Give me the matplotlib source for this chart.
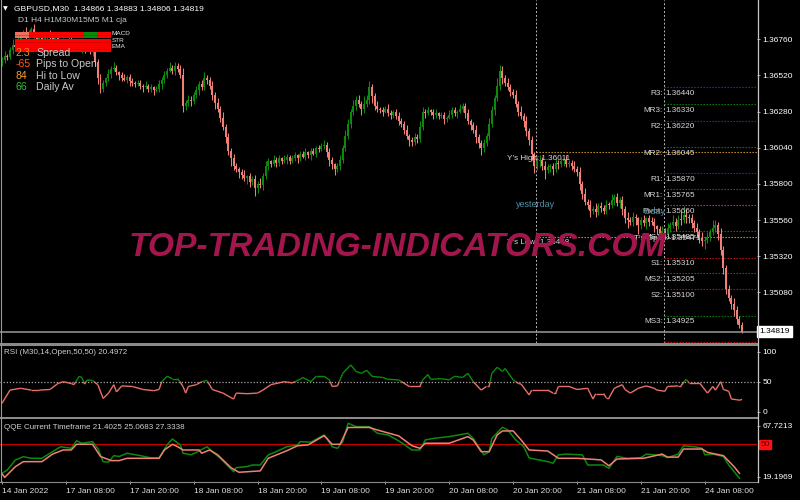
import numpy as np
import matplotlib
matplotlib.use("Agg")
import matplotlib.pyplot as plt
from matplotlib.collections import LineCollection
from matplotlib.patches import Rectangle
from matplotlib.lines import Line2D
import matplotlib.transforms as mtransforms

plt.rcParams['font.family'] = ['Liberation Sans', 'DejaVu Sans']

# ---------------- data ----------------
symbol = "GBPUSD,M30"
quote = [1.34866, 1.34883, 1.34806, 1.34819]

first_open = 1.3661
close = [
    1.3662, 1.3665, 1.3664, 1.3669, 1.3672, 1.3671, 1.3676, 1.3679, 1.3681, 1.3678,
    1.3680, 1.3683, 1.3679, 1.3676, 1.3678, 1.3674, 1.3677, 1.3680, 1.3678, 1.3675,
    1.3677, 1.3674, 1.3672, 1.3675, 1.3673, 1.3676, 1.3674, 1.3671, 1.3673, 1.3670,
    1.3672, 1.3669, 1.3671, 1.3668, 1.3670, 1.3661, 1.3650, 1.3643, 1.3647, 1.3650,
    1.3653, 1.3656, 1.3657, 1.3654, 1.3652, 1.3650, 1.3649, 1.3651, 1.3648, 1.3647,
    1.3646, 1.3647, 1.3645, 1.3644, 1.3645, 1.3643, 1.3644, 1.3642, 1.3643, 1.3646,
    1.3649, 1.3652, 1.3655, 1.3657, 1.3655, 1.3658, 1.3656, 1.3652, 1.3632, 1.3634,
    1.3636, 1.3635, 1.3639, 1.3642, 1.3646, 1.3644, 1.3650, 1.3649, 1.3645, 1.3639,
    1.3634, 1.3630, 1.3624, 1.3618, 1.3611, 1.3602, 1.3597, 1.3592, 1.3590, 1.3588,
    1.3586, 1.3584, 1.3585, 1.3581, 1.3583, 1.3577, 1.3580, 1.3579, 1.3585, 1.3592,
    1.3595, 1.3593, 1.3596, 1.3594, 1.3597, 1.3595, 1.3596, 1.3598, 1.3595, 1.3597,
    1.3599, 1.3597, 1.3600, 1.3598, 1.3601, 1.3599, 1.3602, 1.3600, 1.3604, 1.3603,
    1.3605, 1.3606, 1.3601, 1.3596, 1.3593, 1.3590, 1.3592, 1.3596, 1.3604, 1.3612,
    1.3620, 1.3628, 1.3632, 1.3636, 1.3633, 1.3630, 1.3633, 1.3636, 1.3644, 1.3638,
    1.3632, 1.3630, 1.3629, 1.3628, 1.3630, 1.3627, 1.3626, 1.3628, 1.3625, 1.3622,
    1.3620, 1.3616, 1.3612, 1.3609, 1.3608, 1.3611, 1.3610, 1.3618, 1.3628, 1.3627,
    1.3629, 1.3628, 1.3626, 1.3627, 1.3625, 1.3626, 1.3623, 1.3624, 1.3626, 1.3629,
    1.3627, 1.3628, 1.3630, 1.3632, 1.3627, 1.3622, 1.3619, 1.3616, 1.3611, 1.3607,
    1.3604, 1.3607, 1.3612, 1.3620, 1.3629, 1.3637, 1.3645, 1.3655, 1.3650, 1.3647,
    1.3644, 1.3641, 1.3639, 1.3633, 1.3628, 1.3625, 1.3622, 1.3615, 1.3609, 1.3600,
    1.3592, 1.3595, 1.3596, 1.3592, 1.3589, 1.3591, 1.3592, 1.3590, 1.3594, 1.3593,
    1.3595, 1.3596, 1.3593, 1.3594, 1.3592, 1.3590, 1.3588, 1.3580, 1.3573, 1.3568,
    1.3566, 1.3562, 1.3563, 1.3561, 1.3565, 1.3564, 1.3562, 1.3566, 1.3566, 1.3569,
    1.3571, 1.3567, 1.3569, 1.3563, 1.3557, 1.3556, 1.3555, 1.3558, 1.3557, 1.3553,
    1.3556, 1.3554, 1.3557, 1.3555, 1.3555, 1.3552, 1.3550, 1.3547, 1.3549, 1.3547,
    1.3551, 1.3553, 1.3555, 1.3552, 1.3556, 1.3556, 1.3559, 1.3558, 1.3557, 1.3554,
    1.3551, 1.3548, 1.3544, 1.3542, 1.3543, 1.3545, 1.3548, 1.3551, 1.3553, 1.3547,
    1.3536, 1.3524, 1.3510, 1.3504, 1.3500, 1.3496, 1.3490, 1.3486, 1.34819,
]
# upper / lower wick length in pips
wick_up = [
    2, 3, 1, 2, 4, 2, 3, 2, 1, 3,
    2, 1, 3, 2, 1, 2, 3, 1, 2, 2,
    1, 3, 2, 2, 1, 2, 3, 1, 2, 2,
    2, 1, 2, 3, 2, 4, 2, 3, 2, 1,
    3, 2, 4, 2, 1, 2, 3, 1, 2, 2,
    1, 2, 2, 1, 3, 1, 2, 1, 2, 3,
    2, 3, 2, 4, 2, 3, 2, 3, 5, 2,
    3, 2, 2, 3, 2, 3, 4, 2, 2, 3,
    2, 3, 2, 4, 2, 3, 2, 3, 2, 1,
    2, 3, 1, 2, 2, 3, 2, 4, 2, 3,
    2, 1, 3, 2, 2, 1, 3, 2, 1, 2,
    2, 1, 2, 2, 3, 1, 2, 2, 1, 2,
    2, 3, 2, 3, 2, 1, 2, 3, 2, 4,
    3, 2, 4, 2, 3, 2, 5, 3, 4, 2,
    2, 3, 1, 2, 2, 3, 2, 1, 2, 3,
    2, 2, 3, 1, 2, 3, 2, 4, 3, 2,
    2, 1, 2, 3, 1, 2, 2, 1, 3, 2,
    2, 1, 3, 2, 2, 3, 1, 2, 3, 2,
    2, 3, 2, 4, 3, 2, 5, 4, 3, 2,
    3, 2, 2, 3, 2, 4, 2, 3, 2, 3,
    1, 3, 3, 2, 3, 2, 1, 2, 3, 2,
    2, 1, 3, 2, 2, 3, 2, 3, 2, 4,
    2, 3, 2, 4, 2, 3, 2, 3, 2, 4,
    2, 3, 2, 3, 2, 4, 2, 3, 2, 1,
    2, 3, 1, 2, 3, 2, 1, 2, 3, 2,
    3, 2, 4, 2, 3, 6, 6, 4, 2, 3,
    2, 3, 2, 4, 2, 3, 2, 5, 3, 2,
    4, 3, 2, 3, 2, 4, 3, 2, 2,
]
wick_dn = [
    3, 2, 2, 1, 3, 2, 2, 3, 1, 2,
    1, 2, 2, 3, 1, 2, 1, 2, 2, 3,
    2, 1, 2, 1, 3, 2, 1, 2, 2, 1,
    3, 2, 1, 2, 3, 2, 4, 3, 2, 2,
    2, 3, 1, 2, 3, 2, 1, 2, 3, 2,
    2, 1, 2, 3, 1, 2, 2, 3, 1, 2,
    3, 2, 2, 1, 2, 3, 2, 2, 4, 3,
    2, 3, 2, 2, 3, 2, 2, 3, 2, 3,
    4, 2, 3, 2, 4, 3, 5, 3, 2, 4,
    3, 2, 4, 3, 2, 5, 3, 2, 3, 2,
    3, 2, 1, 3, 2, 2, 1, 3, 2, 1,
    2, 3, 2, 1, 2, 2, 3, 1, 2, 2,
    1, 2, 3, 4, 3, 4, 2, 3, 2, 2,
    2, 3, 2, 3, 2, 4, 3, 2, 3, 4,
    3, 2, 2, 3, 1, 2, 3, 2, 2, 3,
    2, 3, 2, 4, 3, 2, 3, 2, 2, 3,
    1, 2, 3, 2, 2, 1, 3, 2, 1, 2,
    2, 3, 1, 2, 3, 2, 3, 2, 4, 3,
    5, 3, 2, 3, 2, 3, 2, 3, 4, 2,
    2, 3, 2, 2, 3, 2, 4, 3, 3, 4,
    5, 3, 4, 3, 6, 2, 3, 4, 2, 3,
    2, 3, 2, 2, 3, 2, 3, 4, 3, 2,
    3, 4, 2, 3, 2, 3, 2, 2, 3, 2,
    3, 2, 3, 4, 3, 5, 2, 3, 4, 6,
    3, 2, 4, 3, 2, 4, 3, 2, 5, 3,
    2, 3, 2, 3, 2, 3, 2, 4, 3, 3,
    3, 4, 3, 3, 5, 2, 3, 2, 3, 4,
    3, 4, 3, 2, 3, 4, 3, 2, 1,
]

time_bars = [0, 24, 48, 72, 96, 120, 144, 168, 192, 216, 240, 264]
time_labels = ["14 Jan 2022", "17 Jan 08:00", "17 Jan 20:00", "18 Jan 08:00",
               "18 Jan 20:00", "19 Jan 08:00", "19 Jan 20:00", "20 Jan 08:00",
               "20 Jan 20:00", "21 Jan 08:00", "21 Jan 20:00", "24 Jan 08:00"]
price_ticks = [1.36760, 1.36520, 1.36280, 1.36040, 1.35800, 1.35560, 1.35320, 1.35080]
last_price = 1.34819

yday_start, today_start = 200, 248
yday_high, yday_low, today_open = 1.36011, 1.35448, 1.35471
pivot_names = ["R3", "MR3", "R2", "MR2", "R1", "MR1", "Pivot", "MS1", "S1", "MS2", "S2", "MS3", "S3"]
pivot_values = [1.36440, 1.36330, 1.36220, 1.36045, 1.35870, 1.35765, 1.35660,
                1.35485, 1.35310, 1.35205, 1.35100, 1.34925, 1.34750]
pivot_kinds = ["R", "M", "R", "M", "R", "M", "P", "M", "S", "M", "S", "M", "S"]

rsi_bars = [0, 3, 7, 11, 14, 18, 21, 23, 26, 27, 29, 30, 31, 32, 34, 36, 38, 40, 42, 43,
            45, 49, 53, 57, 59, 60, 62, 64, 66, 68, 69, 70, 73, 75, 77, 79, 83, 87, 88, 92,
            96, 98, 101, 106, 109, 112, 113, 116, 118, 121, 123, 124, 126, 128, 131, 133, 135, 137, 139, 143,
            145, 149, 153, 157, 158, 160, 161, 165, 168, 170, 173, 175, 177, 180, 182, 183, 184, 186, 188, 189,
            192, 194, 195, 198, 199, 205, 207, 208, 209, 213, 216, 220, 222, 223, 226, 227, 228, 230, 233, 234,
            236, 239, 242, 245, 246, 249, 250, 254, 255, 257, 258, 262, 265, 267, 268, 270, 271, 273, 274, 276,
            277, 278]
rsi_vals = [14, 36, 39, 36, 36, 37, 47, 50, 47, 45, 59, 57, 46, 53, 52, 45, 22, 31, 45, 33,
            43, 42, 37, 35, 37, 50, 59, 55, 55, 42, 31, 42, 45, 50, 52, 37, 31, 21, 31, 30,
            31, 36, 45, 50, 48, 54, 57, 50, 59, 59, 53, 42, 43, 64, 78, 67, 64, 69, 59, 57,
            54, 53, 42, 42, 53, 62, 54, 55, 53, 59, 57, 64, 50, 36, 42, 42, 64, 74, 67, 72,
            53, 47, 46, 28, 36, 36, 31, 31, 42, 42, 37, 39, 21, 30, 30, 23, 23, 39, 45, 37,
            31, 39, 43, 39, 36, 34, 42, 43, 43, 54, 48, 48, 31, 42, 36, 50, 37, 34, 21, 20,
            19, 20.4972]

qqe_fast_bars = [0, 2, 5, 8, 11, 15, 19, 22, 26, 28, 30, 34, 36, 38, 40, 42, 44, 47, 52, 56,
                 59, 62, 64, 67, 68, 71, 73, 77, 79, 82, 87, 88, 92, 94, 97, 100, 103, 107, 111, 112,
                 116, 121, 122, 124, 126, 128, 130, 133, 138, 141, 145, 149, 154, 157, 159, 162, 168, 175, 177, 181,
                 183, 184, 188, 190, 193, 196, 198, 205, 207, 209, 212, 218, 220, 226, 228, 231, 235, 240, 242, 248,
                 250, 254, 256, 260, 263, 264, 267, 271, 273, 275, 277]
qqe_fast = [22.4, 25.6, 35.0, 38.2, 36.7, 36.7, 43.0, 47.7, 46.2, 53.4, 51.0, 52.5, 46.0, 33.5, 33.0, 39.2, 38.4, 41.5, 39.2, 37.0,
            37.0, 49.4, 55.0, 49.4, 41.5, 40.0, 42.3, 47.7, 43.0, 36.7, 24.0, 27.8, 28.8, 30.3, 30.3, 39.8, 43.0, 47.7, 49.4, 52.5,
            52.0, 58.9, 55.6, 47.7, 46.2, 52.5, 70.0, 66.8, 66.8, 60.5, 58.9, 53.3, 44.6, 44.6, 54.1, 55.6, 57.3, 60.5, 55.6, 40.0,
            43.0, 55.6, 66.2, 63.6, 54.1, 47.7, 37.0, 33.5, 32.0, 40.0, 40.7, 40.0, 30.3, 30.3, 27.2, 38.4, 36.7, 37.3, 40.7, 39.2,
            37.3, 40.7, 48.6, 47.7, 46.2, 40.0, 40.7, 38.4, 30.3, 24.0, 17.7]
qqe_slow_bars = [0, 1, 5, 8, 15, 19, 23, 26, 28, 34, 37, 41, 44, 47, 59, 61, 64, 66, 68, 74,
                 75, 78, 81, 86, 89, 97, 100, 107, 111, 115, 121, 122, 124, 127, 130, 138, 141, 149, 154, 157,
                 159, 168, 175, 177, 180, 183, 186, 188, 192, 195, 198, 205, 209, 216, 225, 228, 231, 241, 248, 250,
                 254, 256, 263, 265, 271, 275, 277]
qqe_slow = [22.0, 18.5, 28.7, 33.5, 33.5, 40.7, 44.6, 44.6, 50.0, 50.0, 38.4, 34.5, 34.5, 36.7, 36.7, 44.6, 50.0, 47.7, 44.6, 44.6,
            41.5, 44.6, 40.0, 27.8, 23.4, 24.7, 36.7, 43.9, 48.6, 49.4, 58.2, 55.6, 50.0, 50.0, 66.0, 66.0, 63.6, 58.0, 48.6, 46.2,
            51.0, 51.0, 57.3, 54.1, 43.0, 43.0, 58.9, 62.7, 62.7, 54.1, 44.6, 43.6, 36.7, 36.7, 35.2, 29.6, 36.0, 36.7, 40.7, 37.8,
            37.8, 45.5, 45.5, 42.3, 39.2, 28.7, 22.4]
qqe_header = [21.4025, 25.0683, 27.3338]
qqe_max, qqe_min, qqe_level = 67.7213, 19.1969, 50

tf_names = ["D1", "H4", "H1", "M30", "M15", "M5", "M1"]
row_names = ["MACD", "STR", "EMA"]
row_signals = [["weak", "down", "down", "down", "down", "up", "down"],
               ["down"] * 7,
               ["down"] * 7]
info_values = ["2.3", "-65", "84", "66"]
info_labels = ["Spread", "Pips to Open", "Hi to Low", "Daily Av"]

# ---------------- figure ----------------
W, H = 800, 500
fig = plt.figure(figsize=(W / 100, H / 100), dpi=100, facecolor='black')


def fx(x):
    return x / W


def fy(y):
    return 1 - y / H


RIGHT = 757
ax = fig.add_axes([0, fy(343), fx(RIGHT), 343 / H])
ax_rsi = fig.add_axes([0, fy(416), fx(RIGHT), 70 / H])
ax_qqe = fig.add_axes([0, fy(481), fx(RIGHT), 61 / H])

XL = (-0.75, 283.6)
TXT = '#d8d8d8'
for a in (ax, ax_rsi, ax_qqe):
    a.set_facecolor('black')
    a.set_xlim(*XL)
    for s in a.spines.values():
        s.set_visible(False)
    a.yaxis.tick_right()
    a.tick_params(axis='y', colors='#c0c0c0', labelcolor='white', labelsize=6,
                  length=2.5, width=0.6, pad=1.5)
    a.tick_params(axis='x', bottom=False, labelbottom=False)

# ---- candles ----
c = np.array(close)
o = np.r_[first_open, c[:-1]]
idx = np.arange(len(c))
hi = np.maximum(o, c) + np.array(wick_up[:len(c)]) * 1e-4
lo = np.minimum(o, c) - np.array(wick_dn[:len(c)]) * 1e-4
bull, bear = '#0b8a0b', '#f07f78'
cols = np.where(c > o, bull, bear)
ax.vlines(idx, lo, hi, colors=cols, linewidth=0.75, zorder=3)
ax.bar(idx, np.maximum(np.abs(c - o), 0.00004), bottom=np.minimum(o, c),
       width=0.75, color=cols, linewidth=0, zorder=3)

ax.set_ylim(1.347434, 1.370206)
ax.set_yticks(price_ticks)
ax.set_yticklabels([f"{p:.5f}" for p in price_ticks])

blend = mtransforms.blended_transform_factory(ax.transAxes, ax.transData)
ax.axhline(last_price, color='#9a9a9a', lw=1.1, zorder=4)
ax.text(1.003, last_price, f"{last_price:.5f}", transform=blend, ha='left', va='center',
        fontsize=6, color='black', zorder=6, clip_on=False,
        bbox=dict(boxstyle='square,pad=0.25', fc='white', ec='white'))

# day separators
for b in (yday_start, today_start):
    ax.axvline(b + 0.6, color='#b8b8b8', lw=0.7, ls=(0, (2, 2)), zorder=2)

# yesterday high / low
for v, name in ((yday_high, "Y's High"), (yday_low, "Y's Low")):
    ax.hlines(v, yday_start + 0.6, XL[1], colors='#e0a020', lw=0.8, ls=(0, (1.2, 1.5)), zorder=2)
    ax.annotate(f"{name}: {v:.5f}", xy=(yday_start, v), xytext=(-19.5, -4.3),
                textcoords='offset points', ha='left', va='center', fontsize=5.9, color=TXT, zorder=5)
ax.annotate("yesterday", xy=(yday_start, 1.35665), xytext=(-13, 0), textcoords='offset points',
            ha='left', va='center', fontsize=6.5, color='#4f8fa8', zorder=5)

# pivot levels
kind_col = {"R": '#2a2aff', "M": '#0a8a0a', "P": '#e020e0', "S": '#d01010'}
for name, v, k in zip(pivot_names, pivot_values, pivot_kinds):
    ax.hlines(v, today_start + 0.6, XL[1], colors=kind_col[k], lw=0.8, ls=(0, (1.2, 1.5)), zorder=2)
    if name == "S3":
        continue
    ax.annotate(f"{name}:", xy=(today_start + 0.6, v), xytext=(-0.6, -4.4),
                textcoords='offset points', ha='right', va='center', fontsize=5.9, color=TXT, zorder=5)
    ax.annotate(f"{v:.5f}", xy=(today_start + 0.6, v), xytext=(0.9, -4.4),
                textcoords='offset points', ha='left', va='center', fontsize=5.9, color=TXT, zorder=5)
ax.annotate(f"T's Open: {today_open:.5f}", xy=(today_start, today_open), xytext=(-20, -4.0),
            textcoords='offset points', ha='left', va='center', fontsize=5.9, color=TXT, zorder=5)
ax.annotate("today", xy=(today_start, 1.35660), xytext=(-13, -4.4), textcoords='offset points',
            ha='left', va='center', fontsize=6.5, color='#4f8fa8', zorder=5)

# ---- RSI ----
pts = np.column_stack([rsi_bars, rsi_vals]).astype(float)
segs, scol = [], []
for p, q in zip(pts[:-1], pts[1:]):
    if (p[1] - 50) * (q[1] - 50) < 0:
        t = (50 - p[1]) / (q[1] - p[1])
        m = p + t * (q - p)
        for a_, b_ in ((p, m), (m, q)):
            segs.append([a_, b_])
            scol.append(bull if (a_[1] + b_[1]) / 2 > 50 else '#e8706a')
    else:
        segs.append([p, q])
        scol.append(bull if (p[1] + q[1]) / 2 > 50 else '#e8706a')
ax_rsi.add_collection(LineCollection(segs, colors=scol, linewidths=1.0, zorder=3))
ax_rsi.axhline(50, color='#a8a8a8', lw=0.9, ls=(0, (1, 1.5)), zorder=2)
ax_rsi.set_ylim(-7.2, 109.5)
ax_rsi.set_yticks([0, 50, 100])
ax_rsi.set_yticklabels(["0", "50", "100"])

# ---- QQE ----
ax_qqe.axhline(qqe_level, color='#c80000', lw=0.8, zorder=2)
ax_qqe.plot(qqe_fast_bars, qqe_fast, color=bull, lw=1.1, zorder=3)
ax_qqe.plot(qqe_slow_bars, qqe_slow, color='#f08078', lw=1.1, zorder=4)
ax_qqe.set_ylim(15.1, 73.1)
ax_qqe.set_yticks([qqe_min, qqe_max])
ax_qqe.set_yticklabels([f"{qqe_min:.4f}", f"{qqe_max:.4f}"])
bq = mtransforms.blended_transform_factory(ax_qqe.transAxes, ax_qqe.transData)
ax_qqe.text(1.0045, qqe_level, f"{qqe_level}", transform=bq, ha='left', va='center', fontsize=6,
            color='#5a0000', clip_on=False,
            bbox=dict(boxstyle='square,pad=0.15', fc='#ff1010', ec='#ff1010'))

ax_qqe.tick_params(axis='x', bottom=True, labelbottom=True, direction='out', length=2.5,
                   width=0.6, color='#c0c0c0', labelcolor='#e0e0e0', labelsize=6, pad=2.5)
ax_qqe.set_xticks(time_bars)
ax_qqe.set_xticklabels(time_labels)
for lab in ax_qqe.get_xticklabels():
    lab.set_horizontalalignment('left')

# ---- frame lines ----
fig.add_artist(Rectangle((0, fy(345.5)), fx(RIGHT + 1), 2.5 / H, transform=fig.transFigure,
                         fc='#8a8a8a', ec='none'))
fig.add_artist(Rectangle((0, fy(419.2)), fx(RIGHT + 1), 2.5 / H, transform=fig.transFigure,
                         fc='#8a8a8a', ec='none'))
fig.add_artist(Line2D([0, fx(RIGHT)], [fy(481.8), fy(481.8)], color='#8a8a8a', lw=0.8))
fig.add_artist(Line2D([fx(RIGHT + 0.5), fx(RIGHT + 0.5)], [fy(0), fy(482)], color='#c8c8c8', lw=0.9))
fig.add_artist(Line2D([fx(0.6), fx(0.6)], [fy(0), fy(482)], color='#9a9a9a', lw=0.8))

# ---- header ----
fig.text(fx(3), fy(9), "\u25BC", fontsize=4.5, color='white', va='center', ha='left',
         family=['DejaVu Sans'])
fig.text(fx(14), fy(9), symbol + "  " + " ".join(f"{q:.5f}" for q in quote),
         fontsize=6.1, color='white', va='center', ha='left')

# ---- info panel ----
fig.text(fx(18), fy(21), " ".join(["D1", "H4", "H1M30M15M5", "M1", "cja"]),
         fontsize=6, color='#c8c8c8', va='center', ha='left')
sig_col = {"up": '#0a8a0a', "down": '#ff0000', "weak": '#f07060'}
col_w = (111 - 15) / len(tf_names)
row_y = [32, 39, 45.5]
for r, (rname, sigs) in enumerate(zip(row_names, row_signals)):
    for j, s in enumerate(sigs):
        x0 = 15 + j * col_w
        fig.add_artist(Rectangle((fx(x0), fy(row_y[r] + 6)), col_w / W, 6 / H,
                                 transform=fig.transFigure, fc=sig_col[s], ec='none'))
    fig.add_artist(Line2D([fx(15), fx(111)], [fy(row_y[r] + 3), fy(row_y[r] + 3)],
                          color='#a00000', lw=0.4, alpha=0.6))
    fig.text(fx(111.5), fy(row_y[r] + 1.5), rname, fontsize=4.6, color='#e8e8e8',
             va='center', ha='left')

info_cols = ['#f09010', '#ff5a1a', '#f0a030', '#30c030']
for k, (v, lab, col) in enumerate(zip(info_values, info_labels, info_cols)):
    yy = 53 + k * 11.3
    fig.text(fx(15.5), fy(yy), v, fontsize=7.6, color=col, va='center', ha='left')
    fig.text(fx(36), fy(yy), lab, fontsize=7.6, color='#c8c8c8', va='center', ha='left')

# ---- sub-window titles ----
fig.text(fx(4), fy(352.5), f"RSI (M30,14,Open,50,50) {rsi_vals[-1]:.4f}", fontsize=5.8,
         color='#d0d0d0', va='center', ha='left')
fig.text(fx(4), fy(427.5), "QQE Current Timeframe " + " ".join(f"{v:.4f}" for v in qqe_header),
         fontsize=5.8, color='#d0d0d0', va='center', ha='left')

# ---- watermark ----
fig.text(fx(397), fy(247), "TOP-TRADING-INDICATORS.COM", fontsize=24.2, fontweight='bold',
         fontstyle='italic', color='#a3164d', ha='center', va='center', zorder=10)

fig.savefig("out.png", dpi=100, facecolor='black')
